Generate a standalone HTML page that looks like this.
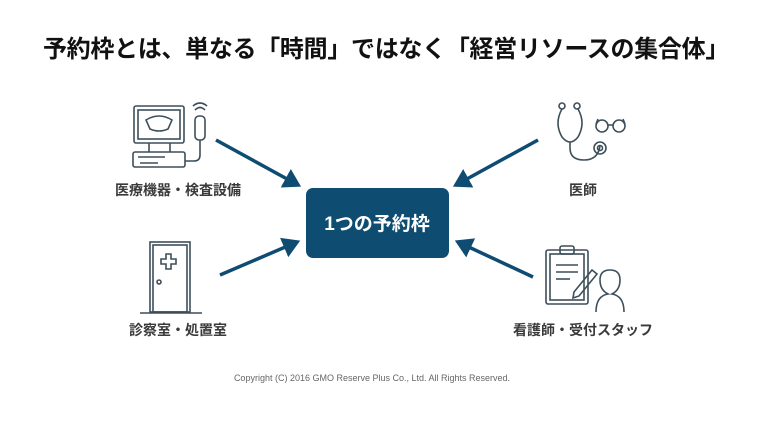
<!DOCTYPE html>
<html><head><meta charset="utf-8"><style>
html,body{margin:0;padding:0;background:#fff;}
body{width:772px;height:421px;position:relative;overflow:hidden;font-family:"Liberation Sans","Noto Sans CJK JP",sans-serif;}
.t{position:absolute;white-space:nowrap;}
</style></head><body>
<div class="t" style="left:0;width:772px;top:29px;text-align:center;font-size:24px;font-weight:bold;color:#111;letter-spacing:-0.3px;">予約枠とは、単なる「時間」ではなく「経営リソースの集合体」</div>
<svg width="772" height="421" style="position:absolute;left:0;top:0">
<defs><marker id="a" markerWidth="6" markerHeight="6" refX="4" refY="3" orient="auto" markerUnits="strokeWidth"><path d="M0,0 L5,3 L0,6 z" fill="#0f4c72"/></marker></defs>
<g stroke="#0f4c72" stroke-width="3.5" fill="none" marker-end="url(#a)">
<line x1="216" y1="140" x2="298" y2="185"/>
<line x1="220" y1="275" x2="297" y2="242"/>
<line x1="538" y1="140" x2="456" y2="185"/>
<line x1="533" y1="277" x2="458" y2="242"/>
</g>
<rect x="306" y="188" width="143" height="70" rx="7" fill="#0f4c72"/>
<text x="377" y="230" text-anchor="middle" font-size="19" font-weight="bold" fill="#fff" font-family="Liberation Sans, Noto Sans CJK JP, sans-serif">1つの予約枠</text>
<g stroke="#3d4f5a" stroke-width="1.6" fill="none">
<rect x="134" y="106" width="50" height="37" rx="2"/><rect x="138" y="110" width="42" height="29"/>
<path d="M146,120 q13,-8 26,0 l-4,9 q-9,4 -18,0z"/>
<rect x="133" y="152" width="52" height="15" rx="2"/><line x1="149" y1="143" x2="149" y2="152"/><line x1="170" y1="143" x2="170" y2="152"/>
<line x1="138" y1="157" x2="165" y2="157"/><line x1="140" y1="163" x2="158" y2="163"/>
<rect x="195" y="116" width="10" height="24" rx="4"/><path d="M200,140 v15 q0,6 -6,6 h-9"/>
<path d="M195,110 q5,-5 10,0 M193,106 q7,-6 14,0"/>
<rect x="150" y="242" width="40" height="70"/><rect x="153" y="245" width="34" height="67"/>
<path d="M166,254 h5 v5 h5 v5 h-5 v5 h-5 v-5 h-5 v-5 h5z"/>
<circle cx="159" cy="282" r="2"/><line x1="140" y1="313" x2="202" y2="313"/>
<circle cx="562" cy="106" r="3"/><circle cx="577" cy="106" r="3"/>
<path d="M562,109 q-8,14 0,28 q8,10 16,0 q8,-14 0,-28"/>
<path d="M570,142 v6 q0,12 14,12 q14,0 16,-14"/><circle cx="600" cy="148" r="6"/><circle cx="600" cy="148" r="2.5"/>
<circle cx="602" cy="126" r="6"/><circle cx="619" cy="126" r="6"/><path d="M608,125 h5 M596,124 l2,-5 M625,124 l-2,-5"/>
<rect x="546" y="250" width="42" height="54" rx="2"/><rect x="550" y="254" width="34" height="46"/>
<rect x="560" y="246" width="14" height="8" rx="2"/>
<line x1="556" y1="265" x2="578" y2="265"/><line x1="556" y1="272" x2="578" y2="272"/><line x1="556" y1="279" x2="570" y2="279"/>
<path d="M574,292 l18,-22 l5,4 l-18,22 l-6,2z"/>
<path d="M596,312 q0,-16 12,-18 q-8,-4 -8,-14 q0,-10 10,-10 q10,0 10,10 q0,10 -8,14 q12,2 12,18"/>
</g>
</svg>
<div class="t" style="left:98px;width:160px;top:180px;text-align:center;font-size:14px;font-weight:bold;color:#3a3a3a;">医療機器・検査設備</div>
<div class="t" style="left:98px;width:160px;top:320px;text-align:center;font-size:14px;font-weight:bold;color:#3a3a3a;">診察室・処置室</div>
<div class="t" style="left:543px;width:80px;top:180px;text-align:center;font-size:14px;font-weight:bold;color:#3a3a3a;">医師</div>
<div class="t" style="left:503px;width:160px;top:320px;text-align:center;font-size:14px;font-weight:bold;color:#3a3a3a;">看護師・受付スタッフ</div>
<div class="t" style="left:-14px;width:772px;top:373px;text-align:center;font-size:9px;color:#666;">Copyright (C) 2016 GMO Reserve Plus Co., Ltd. All Rights Reserved.</div>
</body></html>
